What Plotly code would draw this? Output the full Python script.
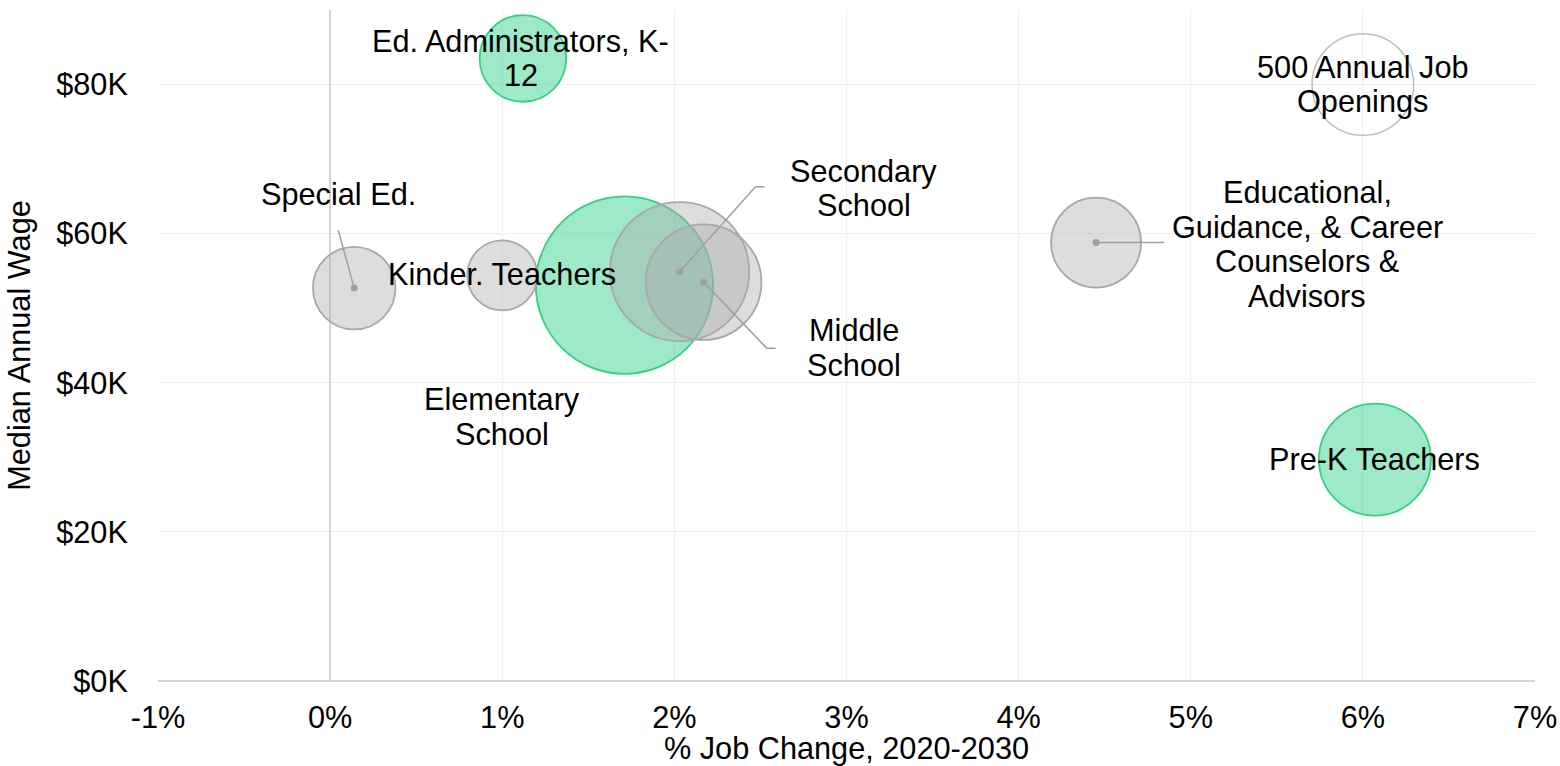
import plotly.graph_objects as go

# Occupation data: projected % job change 2020-2030, median annual wage, annual openings
occupations = [
    "Ed. Administrators, K-12",
    "Special Ed.",
    "Kinder. Teachers",
    "Elementary School",
    "Secondary School",
    "Middle School",
    "Educational, Guidance, & Career Counselors & Advisors",
    "Pre-K Teachers",
]
job_change = [1.12, 0.14, 1.0, 1.71, 2.03, 2.17, 4.45, 6.07]
median_wage = [83500, 52700, 54400, 53100, 54900, 53500, 58800, 29700]
annual_openings = [363, 330, 237, 1524, 939, 647, 392, 608]
highlighted = [True, False, False, True, False, False, False, True]

# Wrapped label lines
label_lines = [
    ["Ed. Administrators, K-", "12"],
    ["Special Ed."],
    ["Kinder. Teachers"],
    ["Elementary", "School"],
    ["Secondary", "School"],
    ["Middle", "School"],
    ["Educational,", "Guidance, & Career", "Counselors &", "Advisors"],
    ["Pre-K Teachers"],
]

# Size key bubble
key_openings = 500
key_x = 6.0
key_wage = 80000
key_lines = ["500 Annual Job", "Openings"]

x_ticks = [-1, 0, 1, 2, 3, 4, 5, 6, 7]
x_tick_text = ["-1%", "0%", "1%", "2%", "3%", "4%", "5%", "6%", "7%"]
y_ticks = [0, 20000, 40000, 60000, 80000]
y_tick_text = ["$0K", "$20K", "$40K", "$60K", "$80K"]

FONT = "Liberation Sans, Arial, sans-serif"
FS = 30.7
LINE_GAP = 34.5
KEY_RADIUS = 50.8
sizeref = key_openings / 2 / KEY_RADIUS ** 2

GREEN_FILL = "rgba(37,206,133,0.45)"
GREEN_LINE = "rgb(52,208,136)"
GREY_FILL = "rgba(170,170,170,0.4)"
GREY_LINE = "rgb(168,168,168)"
LEADER = "rgb(160,160,160)"

fig = go.Figure()


def subset(flag):
    idx = [i for i, h in enumerate(highlighted) if h == flag]
    return ([job_change[i] for i in idx], [median_wage[i] for i in idx],
            [annual_openings[i] for i in idx])


gx, gy, gs = subset(True)
fig.add_trace(go.Scatter(
    x=gx, y=gy, mode="markers",
    marker=dict(size=gs, sizemode="area", sizeref=sizeref, color=GREEN_FILL,
                opacity=1, line=dict(color=GREEN_LINE, width=1.8)),
    hoverinfo="skip", showlegend=False))

nx, ny, ns = subset(False)
fig.add_trace(go.Scatter(
    x=nx, y=ny, mode="markers",
    marker=dict(size=ns, sizemode="area", sizeref=sizeref, color=GREY_FILL,
                opacity=1, line=dict(color=GREY_LINE, width=1.8)),
    hoverinfo="skip", showlegend=False))

# Size key circle
fig.add_trace(go.Scatter(
    x=[key_x], y=[key_wage], mode="markers",
    marker=dict(size=[key_openings], sizemode="area", sizeref=sizeref, opacity=1,
                color="rgba(0,0,0,0)", line=dict(color="rgb(190,190,190)", width=1.5)),
    hoverinfo="skip", showlegend=False))

# Leader lines (pixel offsets from bubble centre, y up) and label offsets
leaders = {
    "Special Ed.": "M0,0 L-16,58",
    "Secondary School": "M0,0 L76,85 L85,85",
    "Middle School": "M0,0 L63,-66 L72,-66",
    "Educational, Guidance, & Career Counselors & Advisors": "M0,0 L68,0",
}
label_shift = {
    "Ed. Administrators, K-12": (-2, 0),
    "Special Ed.": (-16, 94),
    "Kinder. Teachers": (0, 1),
    "Elementary School": (-122, -132),
    "Secondary School": (184, 83),
    "Middle School": (150, -66),
    "Educational, Guidance, & Career Counselors & Advisors": (211, -2),
    "Pre-K Teachers": (0, 0),
}

dot_x, dot_y = [], []
for name, xv, yv in zip(occupations, job_change, median_wage):
    if name in leaders:
        fig.add_shape(type="path", xref="x", yref="y",
                      xsizemode="pixel", ysizemode="pixel",
                      xanchor=xv, yanchor=yv, path=leaders[name],
                      line=dict(color=LEADER, width=1.5), layer="above")
        dot_x.append(xv)
        dot_y.append(yv)

fig.add_trace(go.Scatter(
    x=dot_x, y=dot_y, mode="markers",
    marker=dict(size=7, color=LEADER), hoverinfo="skip", showlegend=False))


def add_label(lines, xv, yv, dx, dy):
    n = len(lines)
    for i, line in enumerate(lines):
        fig.add_annotation(x=xv, y=yv, text=line, showarrow=False,
                           xshift=dx, yshift=dy - (i - (n - 1) / 2) * LINE_GAP,
                           font=dict(family=FONT, size=FS, color="#000"))


for name, lines, xv, yv in zip(occupations, label_lines, job_change, median_wage):
    dx, dy = label_shift[name]
    add_label(lines, xv, yv, dx, dy)

add_label(key_lines, key_x, key_wage, 0, 0)

fig.update_layout(
    width=1560, height=766,
    margin=dict(l=158, r=25, t=10, b=85),
    paper_bgcolor="white", plot_bgcolor="white",
    font=dict(family=FONT, size=FS, color="#000"),
    xaxis=dict(
        range=[-1, 7], tickvals=x_ticks, ticktext=x_tick_text,
        showgrid=True, gridcolor="#eeeeee", gridwidth=1,
        zeroline=True, zerolinecolor="#d4d4d4", zerolinewidth=1.5,
        ticks="", ticklabelstandoff=15, automargin=False,
        title=dict(text="% Job Change, 2020-2030", standoff=2,
                   font=dict(family=FONT, size=FS)),
        tickfont=dict(family=FONT, size=FS),
    ),
    yaxis=dict(
        range=[0, 90000], tickvals=y_ticks, ticktext=y_tick_text,
        showgrid=True, gridcolor="#eeeeee", gridwidth=1,
        zeroline=True, zerolinecolor="#d4d4d4", zerolinewidth=2,
        showline=True, linecolor="white", linewidth=2,
        ticks="", ticklabelstandoff=22, automargin=False,
        title=dict(text="Median Annual Wage", standoff=16,
                   font=dict(family=FONT, size=FS)),
        tickfont=dict(family=FONT, size=FS),
    ),
)

fig.write_html("out.html")
